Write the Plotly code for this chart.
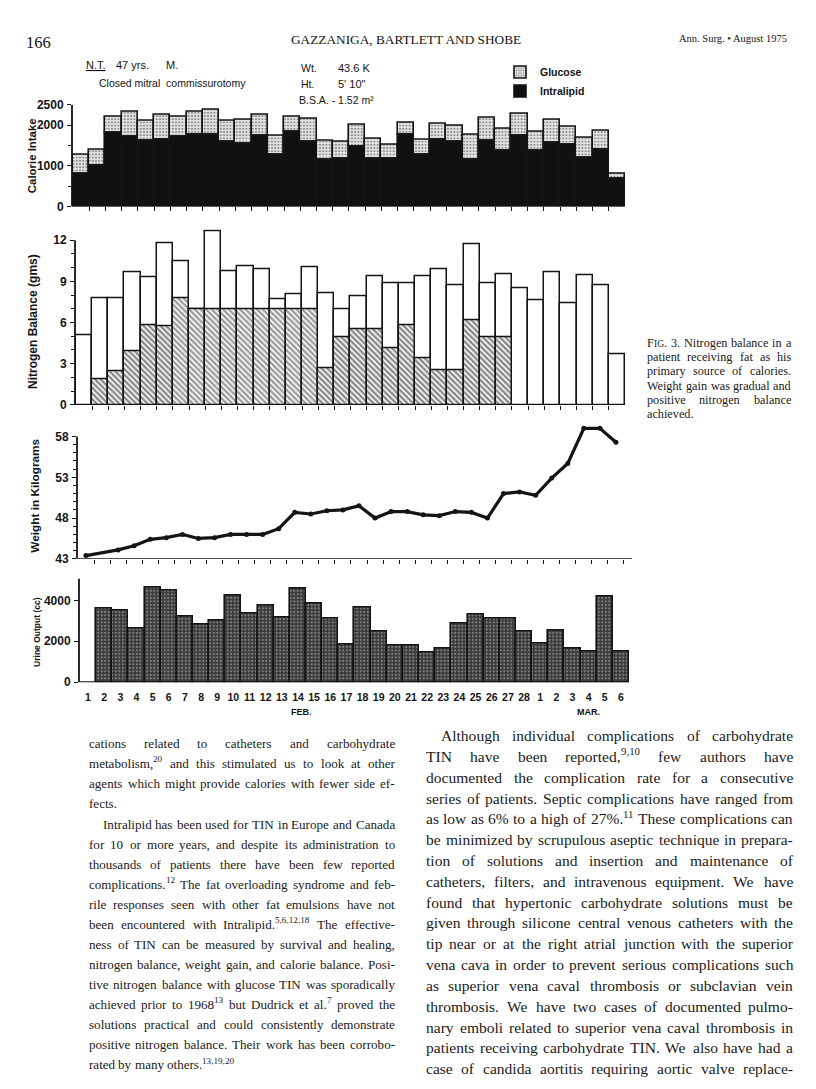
import re
import plotly.graph_objects as go

W, H = 816, 1089
OX, OY = 8, 8            # default page margin of the html body
FW, FH = W - OX, H - OY
def px(x): return (x - OX) / FW
def py(y): return 1 - (y - OY) / FH

# ---------------- data ----------------
day_labels = ["1", "2", "3", "4", "5", "6", "7", "8", "9", "10", "11", "12", "13", "14",
              "15", "16", "17", "18", "19", "20", "21", "22", "23", "24", "25", "26", "27",
              "28", "1", "2", "3", "4", "5", "6"]
calorie_intralipid = [800, 1000, 1800, 1720, 1610, 1640, 1720, 1760, 1760, 1600, 1530, 1750,
                      1270, 1830, 1600, 1140, 1160, 1470, 1160, 1160, 1770, 1270, 1630, 1580,
                      1140, 1610, 1370, 1750, 1380, 1570, 1510, 1190, 1400, 690]
calorie_glucose = [460, 400, 410, 600, 500, 610, 490, 560, 620, 510, 590, 510,
                   470, 370, 560, 480, 430, 530, 500, 350, 280, 380, 410, 410,
                   620, 560, 550, 530, 460, 550, 450, 490, 450, 110]
nitrogen_intake = [5.1, 7.75, 7.8, 9.65, 9.3, 11.75, 10.45, 6.95, 12.65, 9.75, 10.1, 9.9,
                   7.7, 8.1, 10.0, 8.15, 7.0, 7.9, 9.4, 8.85, 8.85, 9.4, 9.9, 8.75, 11.7,
                   8.85, 9.5, 8.5, 7.65, 9.65, 7.4, 9.45, 8.7, 3.7]
nitrogen_output = [None, 1.9, 2.45, 3.9, 5.8, 5.75, 7.8, 6.95, 6.95, 6.95, 6.95, 6.95,
                   6.95, 6.95, 6.95, 2.65, 4.9, 5.55, 5.55, 4.1, 5.8, 3.4, 2.55, 2.55,
                   6.15, 4.9, 4.9, None, None, None, None, None, None, None]
nitrogen_estimated = [False, False, False, False, False, False, True, True, True, True, True,
                      True, True, True, True] + [False] * 19
weight_kg = [43.4, None, 44.1, 44.6, 45.4, 45.6, 46.0, 45.5, 45.6, 46.0, 46.0, 46.0, 46.7,
             48.7, 48.5, 48.9, 49.0, 49.5, 48.0, 48.8, 48.8, 48.4, 48.3, 48.8, 48.7, 48.0,
             51.0, 51.2, 50.8, 52.9, 54.7, 59.0, 59.0, 57.3]
urine_cc = [None, 3600, 3500, 2600, 4600, 4450, 3200, 2800, 3000, 4250, 3350, 3750, 3150,
            4550, 3850, 3100, 1850, 3650, 2450, 1800, 1800, 1450, 1650, 2850, 3300, 3100,
            3100, 2450, 1900, 2500, 1650, 1500, 4200, 1500]

cal_ticks = [0, 1000, 2000, 2500]
nit_ticks = [0, 3, 6, 9, 12]
wt_ticks = [43, 48, 53, 58]
ur_ticks = [0, 2000, 4000]

days = list(range(len(day_labels)))
bounds = [d + 0.5 for d in days]

INK = "#141414"
SANS = "Liberation Sans"
SERIF = "Liberation Serif"
tickfont = dict(family=SANS, size=12, color=INK, weight="bold")

fig = go.Figure()

# calorie intake
fig.add_trace(go.Bar(x=days, y=calorie_glucose, base=calorie_intralipid, width=1, name="Glucose",
                     xaxis="x", yaxis="y",
                     marker=dict(color="#d8d8d8", line=dict(color=INK, width=1.6),
                                 pattern=dict(shape=".", fgcolor="#2e2e2e", bgcolor="#e6e6e6",
                                              size=3.2, solidity=0.35))))
fig.add_trace(go.Bar(x=days, y=calorie_intralipid, width=1, name="Intralipid",
                     xaxis="x", yaxis="y",
                     marker=dict(color="#111111", line=dict(color=INK, width=1.6))))

# nitrogen balance
fig.add_trace(go.Bar(x=days, y=nitrogen_intake, width=1, showlegend=False, xaxis="x2", yaxis="y2",
                     marker=dict(color="white", line=dict(color=INK, width=1.5))))
fig.add_trace(go.Bar(x=days, y=nitrogen_output, width=1, showlegend=False, xaxis="x2", yaxis="y2",
                     marker=dict(color="white", line=dict(color=INK, width=1.5),
                                 pattern=dict(shape="\\",
                                              fgcolor=["#383838" if e else "#111111" for e in nitrogen_estimated],
                                              bgcolor="white", size=4, solidity=0.6))))

# weight
fig.add_trace(go.Scatter(x=days, y=weight_kg, mode="lines+markers", connectgaps=True,
                         showlegend=False, xaxis="x3", yaxis="y3", cliponaxis=False,
                         line=dict(color=INK, width=3.2), marker=dict(color=INK, size=5)))

# urine output
fig.add_trace(go.Bar(x=days, y=urine_cc, width=1, showlegend=False, xaxis="x4", yaxis="y4",
                     marker=dict(color="#4d4d4d", line=dict(color=INK, width=1.6),
                                 pattern=dict(shape=".", fgcolor="#c8c8c8", bgcolor="#3a3a3a",
                                              size=3.5, solidity=0.3))))

def xax(left, right, rng, anchor, **kw):
    d = dict(domain=[px(left), px(right)], range=rng, anchor=anchor, showgrid=False,
             zeroline=False, showline=False, tickcolor=INK, tickwidth=1.3)
    d.update(kw)
    return d

def yax(bottom, top, rng, anchor, tickvals, minor=None):
    d = dict(domain=[py(bottom), py(top)], range=rng, anchor=anchor, showgrid=False,
             zeroline=False, showline=False, ticks="outside", ticklen=4, tickwidth=1.3,
             tickcolor=INK, tickvals=tickvals, ticktext=[str(t) for t in tickvals],
             tickfont=tickfont, ticklabelstandoff=1)
    if minor:
        d["minor"] = dict(tickvals=minor, ticks="outside", ticklen=3, tickcolor=INK, tickwidth=1)
    return d

noticks = dict(ticks="outside", ticklen=4, tickvals=bounds[:-1], showticklabels=False)
fig.update_layout(
    xaxis=xax(72, 625, [-0.56, 33.5], "y", **noticks),
    yaxis=yax(202, 99, [0, 2500], "x", cal_ticks, minor=[500, 1500]),
    xaxis2=xax(75, 625, [-0.56, 33.5], "y2", **noticks),
    yaxis2=yax(403, 225, [0, 12.8], "x2", nit_ticks, minor=[1, 2, 4, 5, 7, 8, 10, 11]),
    xaxis3=xax(77, 632, [-0.56, 34.0], "y3", ticks="outside", ticklen=4, tickvals=bounds,
               showticklabels=False),
    yaxis3=yax(559, 421, [43, 59.7], "x3", wt_ticks,
               minor=[44, 45, 46, 47, 49, 50, 51, 52, 54, 55, 56, 57]),
    xaxis4=xax(79, 629, [-0.56, 33.5], "y4", ticks="", tickvals=days, ticktext=day_labels,
               tickfont=dict(family=SANS, size=10.5, color=INK, weight="bold"),
               ticklabelstandoff=7),
    yaxis4=yax(684, 579, [0, 5060], "x4", ur_ticks),
)

shapes = []
for n, (ylo, yhi) in {"": (0, 2500), "2": (0, 12), "3": (43, 58), "4": (0, 5060)}.items():
    shapes.append(dict(type="line", xref=f"x{n} domain", yref=f"y{n}", x0=0, x1=0, y0=ylo, y1=yhi,
                       line=dict(color=INK, width=1.8)))
    shapes.append(dict(type="line", xref=f"x{n} domain", yref=f"y{n}", x0=0, x1=1, y0=ylo, y1=ylo,
                       line=dict(color=INK, width=1.8)))

ann = []
def A(x, y, text, size, family=SANS, color=INK, xanchor="left", angle=0, weight="normal",
      yanchor="middle"):
    ann.append(dict(x=px(x), y=py(y), xref="paper", yref="paper", text=text, showarrow=False,
                    xanchor=xanchor, yanchor=yanchor, textangle=angle, borderpad=0,
                    font=dict(family=family, size=size, color=color, weight=weight)))

# page header
A(25, 36, "166", 16.5, SERIF)
A(406, 33, "GAZZANIGA, BARTLETT AND SHOBE", 13.3, SERIF, xanchor="center")
A(678, 32, "Ann. Surg. • August 1975", 10.5, SERIF)

# chart header
A(85, 59, "<span style='text-decoration:underline'>N.T.</span>", 11)
A(115, 59, "47 yrs.", 11)
A(165, 59, "M.", 11)
A(98, 77, "Closed mitral  commissurotomy", 10.5)
A(300, 62, "Wt.", 10.5)
A(337, 62, "43.6 K", 11)
A(300, 78, "Ht.", 10.5)
A(337, 78, "5' 10\"", 11)
A(298, 94, "B.S.A. - 1.52 m²", 10.5)

# axis titles
A(32, 151, "Calorie Intake", 11.4, weight="bold", xanchor="center", angle=-90)
A(33, 319, "Nitrogen Balance (gms)", 12, weight="bold", xanchor="center", angle=-90)
A(35, 495, "Weight in Kilograms", 11.8, weight="bold", xanchor="center", angle=-90)
A(37, 633, "Urine Output (cc)", 8.5, weight="bold", xanchor="center", angle=-90)
ann.append(dict(x=13.2, y=py(714), xref="x4", yref="paper", text="FEB.", showarrow=False,
                font=dict(family=SANS, size=9, color=INK, weight="bold")))
ann.append(dict(x=31, y=py(714), xref="x4", yref="paper", text="MAR.", showarrow=False,
                font=dict(family=SANS, size=9, color=INK, weight="bold")))

# ---------------- justified body text ----------------
TW = {' ': 250, '!': 333, '"': 408, '%': 833, '&': 778, "'": 333, '(': 333, ')': 333, ',': 250,
      '-': 333, '.': 250, '/': 278, ':': 278, ';': 278, '?': 444}
TW.update({c: 500 for c in "0123456789"})
TW.update(dict(zip("ABCDEFGHIJKLMNOPQRSTUVWXYZ",
                   [722, 667, 667, 722, 611, 556, 722, 722, 333, 389, 722, 611, 889, 722, 722, 556,
                    722, 667, 556, 611, 722, 722, 944, 722, 722, 611])))
TW.update(dict(zip("abcdefghijklmnopqrstuvwxyz",
                   [444, 500, 444, 500, 444, 333, 500, 500, 278, 278, 500, 278, 778, 500, 500, 500,
                    500, 333, 389, 278, 500, 500, 722, 500, 500, 444])))
SCALE = {"sup": 0.7, "sc": 0.78, "": 1.0}

def segments(s):
    out = []
    for m in re.finditer(r"<sup>(.*?)</sup>|<sc>(.*?)</sc>|([^<]+)", s):
        if m.group(1) is not None:
            out.append((m.group(1), "sup"))
        elif m.group(2) is not None:
            out.append((m.group(2), "sc"))
        else:
            out.append((m.group(3), ""))
    return out

def em(s):
    return sum(SCALE[k] * sum(TW.get(c, 500) for c in t) for t, k in segments(s)) / 1000.0

def column(lines, x0, x1, ys, indents, last, size_scale=0.985):
    size = size_scale * min((x1 - x0 - ind) / em(l) for l, ind, la in zip(lines, indents, last) if not la)
    for line, y, ind, la in zip(lines, ys, indents, last):
        words = line.split(" ")
        widths = [em(w) * size for w in words]
        if la or len(words) == 1:
            gap = 0.25 * size
        else:
            gap = (x1 - x0 - ind - sum(widths)) / (len(words) - 1)
        x = x0 + ind
        for w, wd in zip(words, widths):
            xs = x
            for t, k in segments(w):
                s = size * SCALE[k]
                yy = y - 0.33 * size if k == "sup" else (y + 0.08 * size if k == "sc" else y)
                A(xs, yy, t, s, SERIF, color="#1a1a1a")
                xs += em(t) * s
            x += wd + gap

left_lines = [
    "cations related to catheters and carbohydrate",
    "metabolism,<sup>20</sup> and this stimulated us to look at other",
    "agents which might provide calories with fewer side ef-",
    "fects.",
    "Intralipid has been used for TIN in Europe and Canada",
    "for 10 or more years, and despite its administration to",
    "thousands of patients there have been few reported",
    "complications.<sup>12</sup> The fat overloading syndrome and feb-",
    "rile responses seen with other fat emulsions have not",
    "been encountered with Intralipid.<sup>5,6,12,18</sup> The effective-",
    "ness of TIN can be measured by survival and healing,",
    "nitrogen balance, weight gain, and calorie balance. Posi-",
    "tive nitrogen balance with glucose TIN was sporadically",
    "achieved prior to 1968<sup>13</sup> but Dudrick et al.<sup>7</sup> proved the",
    "solutions practical and could consistently demonstrate",
    "positive nitrogen balance. Their work has been corrobo-",
    "rated by many others.<sup>13,19,20</sup>",
]
left_y = [746 + 20.3 * i for i in range(4)] + [828 + 20.3 * i for i in range(13)]
left_ind = [0, 0, 0, 0, 14] + [0] * 12
left_last = [False, False, False, True] + [False] * 12 + [True]
column(left_lines, 88, 394, left_y, left_ind, left_last)

right_lines = [
    "Although individual complications of carbohydrate",
    "TIN have been reported,<sup>9,10</sup> few authors have",
    "documented the complication rate for a consecutive",
    "series of patients. Septic complications have ranged from",
    "as low as 6% to a high of 27%.<sup>11</sup> These complications can",
    "be minimized by scrupulous aseptic technique in prepara-",
    "tion of solutions and insertion and maintenance of",
    "catheters, filters, and intravenous equipment. We have",
    "found that hypertonic carbohydrate solutions must be",
    "given through silicone central venous catheters with the",
    "tip near or at the right atrial junction with the superior",
    "vena cava in order to prevent serious complications such",
    "as superior vena caval thrombosis or subclavian vein",
    "thrombosis. We have two cases of documented pulmo-",
    "nary emboli related to superior vena caval thrombosis in",
    "patients receiving carbohydrate TIN. We also have had a",
    "case of candida aortitis requiring aortic valve replace-",
]
right_y = [738 + 21.1 * i for i in range(17)]
right_ind = [15] + [0] * 16
column(right_lines, 425, 792, right_y, right_ind, [False] * 17)

caption_lines = [
    "F<sc>IG</sc>. 3. Nitrogen balance in a",
    "patient receiving fat as his",
    "primary source of calories.",
    "Weight gain was gradual and",
    "positive nitrogen balance",
    "achieved.",
]
cap_y = [340 + 14.5 * i for i in range(6)]
column(caption_lines, 646, 790, cap_y, [0] * 6, [False] * 5 + [True], size_scale=0.99)

fig.update_layout(
    width=FW, height=FH, margin=dict(l=0, r=0, t=0, b=0),
    paper_bgcolor="white", plot_bgcolor="white",
    barmode="overlay", bargap=0,
    showlegend=True,
    legend=dict(x=px(500), y=py(51), xanchor="left", yanchor="top", bgcolor="rgba(0,0,0,0)",
                font=dict(family=SANS, size=10.5, color=INK, weight="bold"),
                traceorder="normal", tracegroupgap=0, itemwidth=30),
    shapes=shapes, annotations=ann,
)

fig.write_html("out.html")
